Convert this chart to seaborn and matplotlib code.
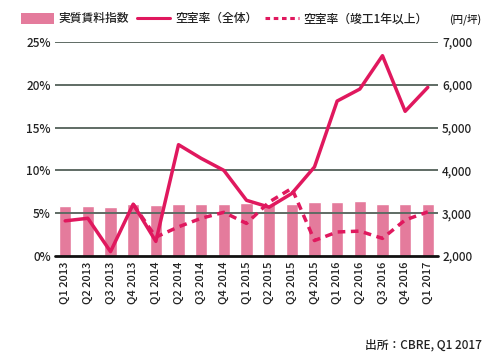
import matplotlib
matplotlib.use("Agg")
import matplotlib.pyplot as plt
import seaborn as sns
import pandas as pd
import numpy as np
from matplotlib.patches import Patch
from matplotlib.lines import Line2D

# =========================
# DATA
# =========================

quarters = [
    "Q1 2013", "Q2 2013", "Q3 2013", "Q4 2013",
    "Q1 2014", "Q2 2014", "Q3 2014", "Q4 2014",
    "Q1 2015", "Q2 2015", "Q3 2015", "Q4 2015",
    "Q1 2016", "Q2 2016", "Q3 2016", "Q4 2016",
    "Q1 2017",
]

# 実質賃料指数 (円/坪)
rent_index = [
    3170, 3170, 3135, 3225,
    3185, 3225, 3225, 3225,
    3240, 3225, 3210, 3250,
    3250, 3285, 3225, 3225,
    3225,
]

# 空室率 (全体) %
vacancy_all = [
    4.1, 4.4, 0.5, 6.05,
    1.7, 13.0, 11.4, 10.0,
    6.5, 5.7, 7.3, 10.4,
    18.1, 19.5, 23.4, 16.9,
    19.7,
]

# 空室率 (竣工1年以上) %
vacancy_1yr = [
    np.nan, np.nan, np.nan, 6.05,
    2.2, 3.4, 4.4, 5.1,
    3.8, 6.3, 7.9, 1.8,
    2.8, 2.9, 2.05, 4.2,
    5.15,
]

legend_labels = ["実質賃料指数", "空室率（全体）", "空室率（竣工1年以上）"]
unit_label = "(円/坪)"
source_label = "出所：CBRE, Q1 2017"

df = pd.DataFrame({
    "quarter": quarters,
    "rent": rent_index,
    "all": vacancy_all,
    "old": vacancy_1yr,
})

# =========================
# STYLE
# =========================

sns.set_style("white")
plt.rcParams["font.family"] = ["Noto Sans CJK JP", "DejaVu Sans"]
plt.rcParams["font.weight"] = "medium"

bar_color = "#e47b9c"
line_color = "#e0185e"
grid_color = "#5f6b64"
text_color = "#222222"

fig = plt.figure(figsize=(5.0, 3.62), dpi=100)
ax = fig.add_axes([0.11, 0.293, 0.766, 0.591])
ax2 = ax.twinx()

# =========================
# BARS (right axis)
# =========================

sns.barplot(
    data=df,
    x="quarter",
    y="rent",
    color=bar_color,
    width=0.55,
    saturation=1,
    ax=ax,
    zorder=1
)

ax.set_ylim(2000, 7000)
ax.set_xlim(-0.45, 16.45)
ax.set_yticks([2000, 3000, 4000, 5000, 6000, 7000])
ax.set_yticklabels(["2,000", "3,000", "4,000", "5,000", "6,000", "7,000"])
ax.set_xlabel("")
ax.set_ylabel("")

for y in [3000, 4000, 5000, 6000, 7000]:
    ax.axhline(y, color=grid_color, lw=1.4, zorder=2)
ax.axhline(2000, color="#111111", lw=2.0, zorder=2, clip_on=False)

# =========================
# LINES (left axis)
# =========================

sns.lineplot(
    data=df,
    x="quarter",
    y="all",
    color=line_color,
    lw=2.5,
    ax=ax2,
    sort=False
)

sns.lineplot(
    data=df,
    x="quarter",
    y="old",
    color=line_color,
    lw=2.5,
    ax=ax2,
    sort=False
)
ax2.lines[-1].set_dashes((2.2, 1.6))

ax2.set_ylim(0, 25)
ax2.set_xlim(-0.45, 16.45)
ax2.set_yticks([0, 5, 10, 15, 20, 25])
ax2.set_yticklabels(["0%", "5%", "10%", "15%", "20%", "25%"])
ax2.set_xlabel("")
ax2.set_ylabel("")

# bars axis -> right labels, lines axis -> left labels
ax.yaxis.tick_right()
ax2.yaxis.tick_left()

for a in (ax, ax2):
    for s in a.spines.values():
        s.set_visible(False)
    a.tick_params(axis="y", length=0, pad=3, labelsize=8.5, colors=text_color)

ax.tick_params(axis="x", length=0, pad=4, labelsize=8, colors=text_color)
plt.setp(ax.get_xticklabels(), rotation=90)

# =========================
# LEGEND
# =========================

handles = [
    Patch(facecolor=bar_color, edgecolor="none"),
    Line2D([0], [0], color=line_color, lw=2.2),
    Line2D([0], [0], color=line_color, lw=2.2, dashes=(1.5, 1.2)),
]

fig.legend(
    handles,
    legend_labels,
    loc="center left",
    bbox_to_anchor=(0.02, 0.948),
    ncol=3,
    frameon=False,
    fontsize=8.5,
    handlelength=2.8,
    handleheight=1.0,
    handletextpad=0.4,
    columnspacing=0.7,
    labelcolor=text_color
)

fig.text(0.963, 0.948, unit_label, ha="right", va="center", fontsize=7.5, color=text_color)
fig.text(0.963, 0.047, source_label, ha="right", va="center", fontsize=8.5, color=text_color)

fig.savefig("out.png", dpi=100)
